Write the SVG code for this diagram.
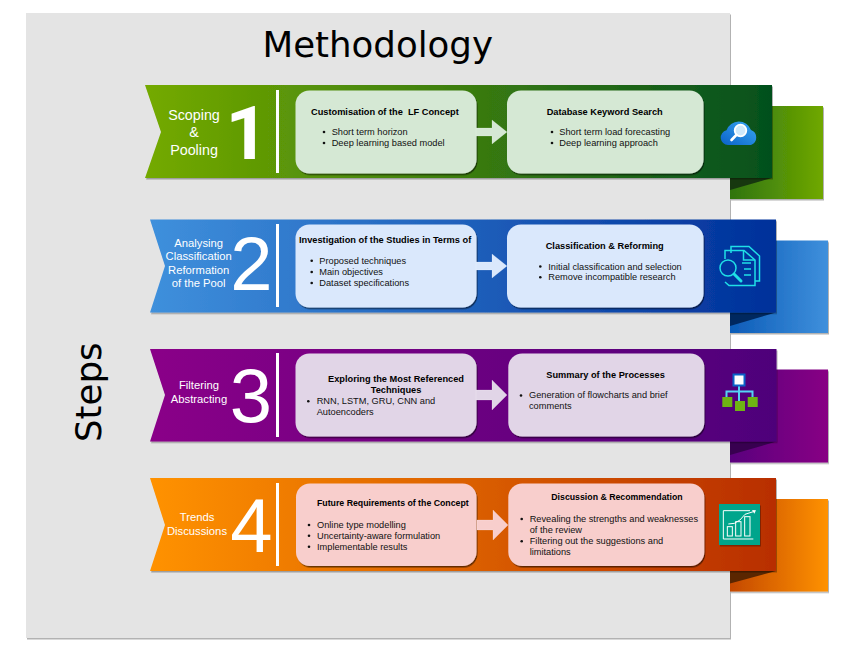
<svg xmlns="http://www.w3.org/2000/svg" width="850" height="658" viewBox="0 0 850 658">
<style>
text{font-family:"Liberation Sans",Arial,sans-serif}
.big{font-family:"DejaVu Sans",sans-serif;font-size:35.6px;fill:#000}
.lab{fill:#fff;text-anchor:middle;font-size:11.25px}
.lab1{fill:#fff;text-anchor:middle;font-size:14.3px}
.num{fill:#fff;font-size:76px;text-anchor:middle}
.one{font-family:Roboto,sans-serif;font-size:75px;font-weight:700}
.h{font-size:9.24px;font-weight:bold;fill:#000;white-space:pre}
.hs{font-size:8.75px}
.b{font-size:9.24px;fill:#111}
.bu{fill:#111}
.div{fill:#fff}
.green{fill:#d5e8d4}.blue{fill:#dae8fc}.purple{fill:#e1d5e7}.pink{fill:#f8cecc}
.arrow{stroke:#fff;stroke-opacity:.3;stroke-width:.6}
</style>
<defs>
<linearGradient id="g1"><stop offset="0" stop-color="#74aa00"/><stop offset="1" stop-color="#04501f"/></linearGradient>
<linearGradient id="g1b"><stop offset="0" stop-color="#2f7410"/><stop offset="1" stop-color="#70a800"/></linearGradient>
<linearGradient id="g2"><stop offset="0" stop-color="#3f90dc"/><stop offset="1" stop-color="#00309a"/></linearGradient>
<linearGradient id="g2b"><stop offset="0" stop-color="#0d5cb8"/><stop offset="1" stop-color="#3f90dc"/></linearGradient>
<linearGradient id="g3"><stop offset="0" stop-color="#8a0088"/><stop offset="1" stop-color="#4e007a"/></linearGradient>
<linearGradient id="g3b"><stop offset="0" stop-color="#5a007e"/><stop offset="1" stop-color="#880084"/></linearGradient>
<linearGradient id="g4"><stop offset="0" stop-color="#ff9200"/><stop offset="1" stop-color="#b82e00"/></linearGradient>
<linearGradient id="g4b"><stop offset="0" stop-color="#c44800"/><stop offset="1" stop-color="#ff9200"/></linearGradient>
<linearGradient id="cl" x1="0" y1="1" x2="1" y2="0"><stop offset="0" stop-color="#0a62c8"/><stop offset="1" stop-color="#3aa8f2"/></linearGradient>
<filter id="sh" x="-5%" y="-5%" width="110%" height="110%"><feDropShadow dx="1" dy="1.5" stdDeviation=".6" flood-color="#000" flood-opacity=".3"/></filter>
<filter id="bs" x="-5%" y="-5%" width="110%" height="110%"><feDropShadow dx="1" dy="1.5" stdDeviation=".7" flood-color="#000" flood-opacity=".55"/></filter>
<path id="ah" d="M0-4H16V-12L31 0L16 12V4H0Z"/>
</defs>

<g id="panel">
<rect x="26" y="13" width="704" height="625" fill="#e4e4e4" filter="url(#sh)"/>
<text class="big" x="262.500" y="57">Methodology</text>
<text class="big" transform="translate(100.500 442) rotate(-90)">Steps</text>
</g>

<g id="step1">
<rect x="730" y="106" width="93" height="93" fill="url(#g1b)" filter="url(#sh)"/>
<path d="M730 178H772L730 190Z" fill="#17380f"/>
<path d="M145 85H772V178H145L161 132Z" fill="url(#g1)" filter="url(#sh)"/>
<rect class="div" x="276" y="90" width="3" height="83"/>
<text class="lab1" x="194" y="120">Scoping</text>
<text class="lab1" x="194" y="137">&amp;</text>
<text class="lab1" x="194" y="154.500">Pooling</text>
<text class="num one" x="247" y="159">1</text>
</g>
<g id="step1-a">
<rect class="green" x="295.500" y="90.500" width="181" height="83" rx="14" filter="url(#bs)"/>
<text class="h" x="311" y="114.500">Customisation of the  LF Concept</text>
<circle class="bu" cx="324" cy="132" r="1.300"/><text class="b" x="331.700" y="135">Short term horizon</text>
<circle class="bu" cx="324" cy="143" r="1.300"/><text class="b" x="331.700" y="146">Deep learning based model</text>
</g>
<g id="step1-b">
<rect class="green" x="507" y="90.500" width="196.500" height="83" rx="14" filter="url(#bs)"/>
<text class="h" x="546.700" y="114.500">Database Keyword Search</text>
<circle class="bu" cx="552" cy="132" r="1.300"/><text class="b" x="559.300" y="135">Short term load forecasting</text>
<circle class="bu" cx="552" cy="143" r="1.300"/><text class="b" x="559.300" y="146">Deep learning approach</text>
</g>
<g id="icon1">
<path d="M728 145A7.500 7.500 0 0 1 726.500 130.200A13 13 0 0 1 751 130A8 8 0 0 1 751 145Z" fill="url(#cl)"/>
<circle cx="740.500" cy="130.500" r="5.800" fill="#cfe9fb" stroke="#fff" stroke-width="1.800"/>
<path d="M736.300 135L731.500 140" stroke="#fff" stroke-width="2.600" stroke-linecap="round"/>
</g>

<g id="step2">
<rect x="730" y="240.500" width="98" height="92.500" fill="url(#g2b)" filter="url(#sh)"/>
<path d="M730 312.500H776L730 326Z" fill="#00285f"/>
<path d="M150 219.500H776V312.500H150L165 266Z" fill="url(#g2)" filter="url(#sh)"/>
<rect class="div" x="276" y="224" width="3" height="83"/>
<text class="lab" x="198.700" y="246.700">Analysing</text>
<text class="lab" x="198.700" y="260">Classification</text>
<text class="lab" x="198.700" y="274">Reformation</text>
<text class="lab" x="198.700" y="287.300">of the Pool</text>
<text class="num" x="251.500" y="290">2</text>
</g>
<g id="step2-a">
<rect class="blue" x="295.500" y="224.500" width="181" height="83" rx="14" filter="url(#bs)"/>
<text class="h" x="299" y="242.700">Investigation of the Studies in Terms of</text>
<circle class="bu" cx="311.700" cy="260.700" r="1.300"/><text class="b" x="319.300" y="263.500">Proposed techniques</text>
<circle class="bu" cx="311.700" cy="272" r="1.300"/><text class="b" x="319.300" y="275">Main objectives</text>
<circle class="bu" cx="311.700" cy="283" r="1.300"/><text class="b" x="319.300" y="286">Dataset specifications</text>
</g>
<g id="step2-b">
<rect class="blue" x="507" y="224.500" width="196.500" height="83" rx="14" filter="url(#bs)"/>
<text class="h" x="545.700" y="248.700">Classification &amp; Reforming</text>
<circle class="bu" cx="540.300" cy="266.500" r="1.300"/><text class="b" x="548.300" y="269.500">Initial classification and selection</text>
<circle class="bu" cx="540.300" cy="277.300" r="1.300"/><text class="b" x="548.300" y="280.300">Remove incompatible research</text>
</g>
<g id="icon2" fill="none" stroke="#1fe0e6" stroke-width="1.500">
<path d="M731 253V246.500H749L759.500 256V281H755"/>
<path d="M725 259V250.500H744L755 260V285.500H729L725 282"/>
<path d="M743.500 250.500V260H755"/>
<circle cx="728" cy="268" r="8"/>
<path d="M734 274L741 281" stroke-width="3" stroke-linecap="round"/>
<path d="M742 263H751M744 269H751M744 275H751"/>
</g>

<g id="step3">
<rect x="730" y="369.500" width="98" height="93" fill="url(#g3b)" filter="url(#sh)"/>
<path d="M730 441.500H776.500L730 455Z" fill="#380050"/>
<path d="M150 349H776.500V441.500H150L165 395Z" fill="url(#g3)" filter="url(#sh)"/>
<rect class="div" x="276" y="353" width="3" height="84"/>
<text class="lab" x="199" y="389.300">Filtering</text>
<text class="lab" x="199" y="403.300">Abstracting</text>
<text class="num" x="251" y="422">3</text>
</g>
<g id="step3-a">
<rect class="purple" x="295.500" y="353.500" width="181" height="83" rx="14" filter="url(#bs)"/>
<text class="h" x="396" y="381.700" text-anchor="middle">Exploring the Most Referenced</text>
<text class="h" x="396" y="392.700" text-anchor="middle">Techniques</text>
<circle class="bu" cx="308.300" cy="401.200" r="1.300"/><text class="b" x="316.700" y="404">RNN, LSTM, GRU, CNN and</text>
<text class="b" x="316.700" y="415">Autoencoders</text>
</g>
<g id="step3-b">
<rect class="purple" x="508.300" y="353.500" width="196" height="83" rx="14" filter="url(#bs)"/>
<text class="h" x="546.300" y="377.700">Summary of the Processes</text>
<circle class="bu" cx="521" cy="395.500" r="1.300"/><text class="b" x="529" y="398.300">Generation of flowcharts and brief</text>
<text class="b" x="529" y="409.300">comments</text>
</g>
<g id="icon3">
<path d="M739 385V402M726.500 397V391.500H752.500V397" fill="none" stroke="#55d3f5" stroke-width="2"/>
<rect x="733.500" y="374.500" width="11" height="11" fill="#fff" stroke="#0a62c8" stroke-width="2"/>
<rect x="722.300" y="397" width="10" height="10" fill="#6eb414"/>
<rect x="735" y="401" width="10" height="10" fill="#6eb414"/>
<rect x="747.700" y="397" width="10" height="10" fill="#6eb414"/>
</g>

<g id="step4">
<rect x="730" y="499" width="98" height="92.500" fill="url(#g4b)" filter="url(#sh)"/>
<path d="M730 571H776L730 583.500Z" fill="#5a2600"/>
<path d="M150 478H776V571H150L165 525Z" fill="url(#g4)" filter="url(#sh)"/>
<rect class="div" x="276" y="483" width="3" height="83"/>
<text class="lab" x="197" y="521">Trends</text>
<text class="lab" x="197" y="535">Discussions</text>
<text class="num" x="251.500" y="551.500">4</text>
</g>
<g id="step4-a">
<rect class="pink" x="296" y="483.500" width="180.500" height="82.500" rx="14" filter="url(#bs)"/>
<text class="h hs" x="317" y="505.700">Future Requirements of the Concept</text>
<circle class="bu" cx="309" cy="525" r="1.300"/><text class="b" x="317" y="527.800">Online type modelling</text>
<circle class="bu" cx="309" cy="535.700" r="1.300"/><text class="b" x="317" y="538.500">Uncertainty-aware formulation</text>
<circle class="bu" cx="309" cy="546.700" r="1.300"/><text class="b" x="317" y="549.500">Implementable results</text>
</g>
<g id="step4-b">
<rect class="pink" x="508.300" y="483.500" width="196" height="82.500" rx="14" filter="url(#bs)"/>
<text class="h hs" x="551.300" y="499.700">Discussion &amp; Recommendation</text>
<circle class="bu" cx="521.700" cy="519" r="1.300"/><text class="b" x="529.700" y="521.800">Revealing the strengths and weaknesses</text>
<text class="b" x="529.700" y="533.300">of the review</text>
<circle class="bu" cx="521.700" cy="541.300" r="1.300"/><text class="b" x="529.700" y="544">Filtering out the suggestions and</text>
<text class="b" x="529.700" y="555.300">limitations</text>
</g>
<g id="icon4">
<rect x="719" y="504" width="41" height="41" fill="#05a58c" filter="url(#sh)"/>
<g transform="translate(690 470) scale(.33333)" fill="none" stroke="#fff" stroke-width="3">
<path d="M180 122H100V207H190"/>
<rect x="112" y="170" width="15" height="28"/>
<rect x="137" y="155" width="16" height="43"/>
<rect x="164" y="140" width="16" height="58"/>
<path d="M115 162L133 160L150 150L165 133L190 125"/>
<path d="M186 120L198 121L193 131Z" fill="#fff" stroke="none"/>
</g>
</g>

<g id="connectors">
<use href="#ah" transform="translate(476 132)" fill="#d5e8d4" class="arrow"/>
<use href="#ah" transform="translate(476 266)" fill="#dae8fc" class="arrow"/>
<use href="#ah" transform="translate(476 395) scale(1 1.250)" fill="#e1d5e7" class="arrow"/>
<use href="#ah" transform="translate(477 525) scale(1 1.250)" fill="#f8cecc" class="arrow"/>
</g>
</svg>
